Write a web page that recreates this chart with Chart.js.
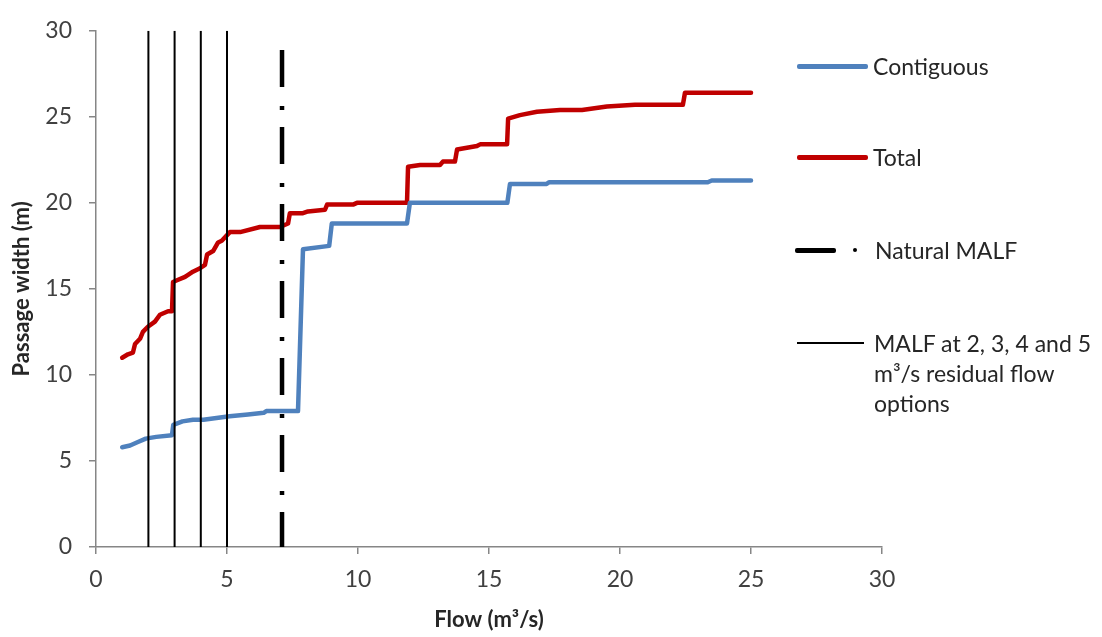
<!DOCTYPE html>
<html>
<head>
<meta charset="utf-8">
<script src="https://cdn.jsdelivr.net/npm/chart.js@4"></script>
<style>
  body { margin: 0; background: #fff; }
  #wrap { position: relative; width: 1102px; height: 637px; font-family: Lato, "Open Sans", sans-serif; }
  .sw { position: absolute; }
  .lbl { position: absolute; font-size: 23px; color: #262626; line-height: 30px; white-space: nowrap; }
</style>
</head>
<body>
<div id="wrap">
  <canvas id="flowChart" width="1102" height="637"></canvas>

  <div class="sw" style="left:797px;top:64px;width:71px;height:4.5px;background:#4F81BD;border-radius:2px"></div>
  <div class="lbl" style="left:873px;top:51px">Contiguous</div>

  <div class="sw" style="left:797px;top:155px;width:71px;height:4.5px;background:#C00000;border-radius:2px"></div>
  <div class="lbl" style="left:873px;top:142px">Total</div>

  <div class="sw" style="left:795px;top:248px;width:41px;height:5px;background:#000;border-radius:2px"></div>
  <div class="sw" style="left:853px;top:248px;width:4px;height:4px;background:#000;border-radius:2px"></div>
  <div class="lbl" style="left:875px;top:235px">Natural MALF</div>

  <div class="sw" style="left:797px;top:342px;width:67px;height:2px;background:#000"></div>
  <div class="lbl" style="left:874px;top:328px">MALF at 2, 3, 4 and 5<br>m³/s residual flow<br>options</div>
</div>

<script>
const contiguousFlow = [1.0, 1.3, 1.6, 1.9, 2.3, 2.9, 2.95, 3.3, 3.7, 4.1, 4.6, 5.1, 5.8, 6.4, 6.5, 7.71, 7.9, 8.9, 9.0, 11.87, 11.98, 15.7, 15.8, 17.2, 17.3, 23.35, 23.5, 25.0];
const contiguousWidth = [5.8, 5.9, 6.1, 6.3, 6.4, 6.5, 7.1, 7.3, 7.4, 7.4, 7.5, 7.6, 7.7, 7.8, 7.9, 7.9, 17.3, 17.5, 18.8, 18.8, 20.0, 20.0, 21.1, 21.1, 21.2, 21.2, 21.3, 21.3];

const totalFlow = [1.0, 1.22, 1.41, 1.49, 1.68, 1.79, 1.98, 2.25, 2.44, 2.75, 2.9, 2.94, 3.09, 3.4, 3.7, 3.97, 4.16, 4.24, 4.47, 4.66, 4.8, 5.11, 5.5, 6.26, 7.02, 7.33, 7.4, 7.9, 8.09, 8.74, 8.82, 9.81, 9.96, 11.87, 11.91, 12.37, 13.13, 13.24, 13.7, 13.78, 14.54, 14.66, 15.69, 15.73, 16.18, 16.83, 17.71, 18.55, 19.5, 20.57, 22.4, 22.48, 22.79, 25.0];
const totalWidth = [11.0, 11.2, 11.3, 11.8, 12.1, 12.5, 12.8, 13.1, 13.5, 13.7, 13.7, 15.4, 15.5, 15.7, 16.0, 16.2, 16.4, 17.0, 17.2, 17.7, 17.8, 18.3, 18.3, 18.6, 18.6, 18.8, 19.4, 19.4, 19.5, 19.6, 19.9, 19.9, 20.0, 20.0, 22.1, 22.2, 22.2, 22.4, 22.4, 23.1, 23.3, 23.4, 23.4, 24.9, 25.1, 25.3, 25.4, 25.4, 25.6, 25.7, 25.7, 26.4, 26.4, 26.4];

const naturalMalf = 7.1;
const naturalMalfTop = 29.7;
const residualFlows = [2, 3, 4, 5];
const residualTop = 30;

const xTicks = [0, 5, 10, 15, 20, 25, 30];
const yTicks = [0, 5, 10, 15, 20, 25, 30];

const font = "Lato, 'Open Sans', sans-serif";
const axisGray = "#868686";

function pairs(xs, ys) {
  return xs.map((x, i) => ({ x: x, y: ys[i] }));
}

const datasets = [];

residualFlows.forEach(f => {
  datasets.push({
    label: "MALF at " + f,
    data: [{ x: f, y: 0 }, { x: f, y: residualTop }],
    borderColor: "#000",
    borderWidth: 2,
    pointRadius: 0
  });
});

datasets.push({
  label: "Natural MALF",
  data: [{ x: naturalMalf, y: 0 }, { x: naturalMalf, y: naturalMalfTop }],
  borderColor: "#000",
  borderWidth: 4.5,
  borderDash: [37, 17, 4, 19],
  borderDashOffset: 2,
  borderCapStyle: "butt",
  pointRadius: 0
});

datasets.push({
  label: "Contiguous",
  data: pairs(contiguousFlow, contiguousWidth),
  borderColor: "#4F81BD",
  borderWidth: 4.5,
  borderJoinStyle: "round",
  borderCapStyle: "round",
  pointRadius: 0
});

datasets.push({
  label: "Total",
  data: pairs(totalFlow, totalWidth),
  borderColor: "#C00000",
  borderWidth: 4.5,
  borderJoinStyle: "round",
  borderCapStyle: "round",
  pointRadius: 0
});

new Chart(document.getElementById("flowChart"), {
  type: "line",
  data: { datasets: datasets },
  options: {
    responsive: false,
    animation: false,
    layout: { padding: { top: 22, right: 220, left: 0, bottom: 0 } },
    plugins: { legend: { display: false }, tooltip: { enabled: false } },
    scales: {
      x: {
        type: "linear",
        min: 0,
        max: 30,
        afterBuildTicks: s => { s.ticks = xTicks.map(v => ({ value: v })); },
        afterFit: s => { s.height = 90; },
        ticks: { color: "#404040", font: { family: font, size: 23 }, padding: 12, maxRotation: 0 },
        grid: { drawOnChartArea: false, tickLength: 7, color: axisGray, lineWidth: 1.5 },
        border: { color: axisGray, width: 1.5 },
        title: { display: true, text: "Flow (m³/s)", color: "#262626", font: { family: font, size: 22, weight: "bold" }, padding: { top: 0 } }
      },
      y: {
        min: 0,
        max: 30,
        afterBuildTicks: s => { s.ticks = yTicks.map(v => ({ value: v })); },
        afterFit: s => { s.width = 96; },
        ticks: { color: "#404040", font: { family: font, size: 23 }, padding: 17 },
        grid: { drawOnChartArea: false, tickLength: 7, color: axisGray, lineWidth: 1.5 },
        border: { color: axisGray, width: 1.5 },
        title: { display: true, text: "Passage width (m)", color: "#262626", font: { family: font, size: 22, weight: "bold" }, padding: { top: 9 } }
      }
    }
  }
});
</script>
</body>
</html>
